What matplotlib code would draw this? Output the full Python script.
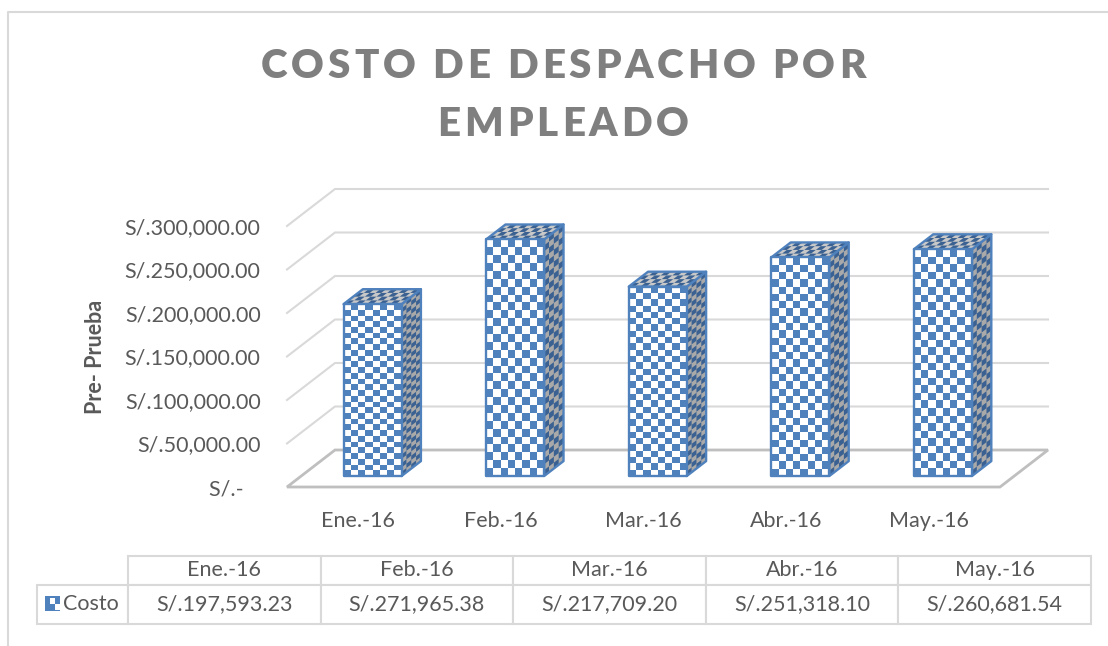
import matplotlib
matplotlib.use("Agg")
import matplotlib.pyplot as plt
from matplotlib.collections import PolyCollection
from matplotlib.lines import Line2D
from matplotlib.patches import Polygon
from matplotlib.text import Text
from matplotlib.transforms import IdentityTransform
import numpy as np

plt.rcParams["font.family"] = ["Lato", "DejaVu Sans"]

months = ["Ene.-16", "Feb.-16", "Mar.-16", "Abr.-16", "May.-16"]
costo = [197593.23, 271965.38, 217709.20, 251318.10, 260681.54]
y_ticks = [0, 50000, 100000, 150000, 200000, 250000, 300000]
y_labels = ["S/.-   ", "S/.50,000.00", "S/.100,000.00", "S/.150,000.00",
            "S/.200,000.00", "S/.250,000.00", "S/.300,000.00"]
title_lines = ["COSTO DE DESPACHO POR", "EMPLEADO"]
series_name = "Costo"
y_title = "Pre- Prueba"

W, H = 1108, 646
BLUE = "#4f81bd"
DARK_BLUE = "#3a6191"
GRAY = "#a9a9a9"
GRID = "#d9d9d9"
FLOOR = "#bfbfbf"
TEXT = "#595959"
LABEL_SIZE = 15.5

# depth of the fake 3d box, in pixels
DEPTH_X = 48
DEPTH_Y = 37
BAR_FRONT = 0.297
BAR_BACK = 0.70
BAR_WIDTH = 0.407


class SpacedText(Text):
    # one text, drawn letter by letter with extra room between the letters
    spacing = 0

    def draw(self, renderer):
        s = self.get_text()
        prop = self.get_fontproperties()
        widths = [renderer.get_text_width_height_descent(s[:i], prop, False)[0] if i else 0
                  for i in range(len(s) + 1)]
        x, y = self.get_position()
        start = x - (widths[-1] + self.spacing * (len(s) - 1)) / 2
        for i, ch in enumerate(s):
            t = Text(start + widths[i] + i * self.spacing, y, ch, color=self.get_color(),
                     fontproperties=prop, va="baseline", ha="left",
                     transform=IdentityTransform())
            t.set_figure(self.get_figure())
            t.draw(renderer)


def px(x, y):
    # picture pixels (origin top left) to display coordinates
    return x, H - y


def corner(cat, value, depth):
    p = ax.transData.transform((cat, value))
    return p + np.array([DEPTH_X * depth, DEPTH_Y * depth])


def draw_checks(origin, u, v, nu, nv, back, front, zorder, edge=BLUE):
    origin, u, v = np.array(origin), np.array(u), np.array(v)
    ax.add_patch(Polygon([origin, origin + u, origin + u + v, origin + v], closed=True,
                         facecolor=back, edgecolor="none", transform=IdentityTransform(),
                         zorder=zorder, clip_on=False))
    cells = []
    for i in range(nu):
        for j in range(nv):
            if (i + j) % 2 == 0:
                a = origin + u * i / nu + v * j / nv
                cells.append([a, a + u / nu, a + u / nu + v / nv, a + v / nv])
    ax.add_collection(PolyCollection(cells, facecolors=front, edgecolors="none",
                                     transform=IdentityTransform(), zorder=zorder + 0.1,
                                     clip_on=False), autolim=False)
    if edge:
        ax.add_patch(Polygon([origin, origin + u, origin + u + v, origin + v], closed=True,
                             facecolor="none", edgecolor=edge, linewidth=1.7,
                             transform=IdentityTransform(), zorder=zorder + 0.2, clip_on=False,
                             joinstyle="round"))


fig = plt.figure(figsize=(W / 100, H / 100), dpi=100, facecolor="white")

# chart border, only top and left are in the picture
fig.add_artist(Line2D([8 / W, 8 / W, 1], [0, 1 - 12 / H, 1 - 12 / H], color=GRID, linewidth=1.5))

ax = fig.add_axes([287 / W, (H - 487) / H, 713 / W, 261 / H])
ax.set_zorder(3)
ax.set_xlim(-0.5, len(months) - 0.5)
ax.set_ylim(0, 300000)
ax.patch.set_visible(False)
for s in ax.spines.values():
    s.set_visible(False)
ax.set_xticks(range(len(months)), months, fontsize=LABEL_SIZE, color=TEXT)
ax.set_yticks(y_ticks, y_labels, fontsize=LABEL_SIZE, color=TEXT)
ax.tick_params(axis="both", length=0)
ax.tick_params(axis="x", pad=17)
ax.tick_params(axis="y", pad=19)

# back wall and side wall gridlines
for v in y_ticks[1:]:
    a = corner(-0.5, v, 0)
    b = corner(-0.5, v, 1)
    c = corner(len(months) - 0.5, v, 1)
    ax.add_line(Line2D([a[0], b[0], c[0]], [a[1], b[1], c[1]], color=GRID, linewidth=1.5,
                       transform=IdentityTransform(), clip_on=False, zorder=1))

# floor
floor = [corner(-0.5, 0, 0), corner(-0.5, 0, 1), corner(len(months) - 0.5, 0, 1),
         corner(len(months) - 0.5, 0, 0)]
ax.add_patch(Polygon(floor, closed=True, facecolor="white", edgecolor=FLOOR, linewidth=2,
                     transform=IdentityTransform(), clip_on=False, zorder=2))

# bars
for i, value in enumerate(costo):
    left = i - BAR_WIDTH / 2
    right = i + BAR_WIDTH / 2
    p0 = corner(left, 0, BAR_FRONT)
    p1 = corner(right, 0, BAR_FRONT)
    p2 = corner(left, value, BAR_FRONT)
    p3 = corner(right, 0, BAR_BACK)
    p4 = corner(right, value, BAR_FRONT)
    draw_checks(p1, p3 - p1, p4 - p1, 4, 40, GRAY, DARK_BLUE, 3)
    draw_checks(p2, p1 - p0, p3 - p1, 10, 4, "#c8c8c8", DARK_BLUE, 3.5)
    draw_checks(p0, p1 - p0, p2 - p0, 8, 30, "white", BLUE, 4)

fig.text(95 / W, 1 - 357 / H, y_title, rotation=90, ha="center", va="center",
         fontsize=15.5, fontweight="bold", color=TEXT)

# title
for line, base in zip(title_lines, [78, 136]):
    t = SpacedText(*px(563, base), line, color="#7f7f7f", fontsize=29, fontweight=800,
                   ha="center", va="baseline", transform=IdentityTransform())
    t.spacing = 3.9
    fig.add_artist(t)
    t.set_transform(IdentityTransform())

# data table under the chart
tax = fig.add_axes([37 / W, (H - 624) / H, (1091 - 37) / W, (624 - 556) / H])
tax.axis("off")
name_w = 91 / 1054
col_w = (1 - name_w) / len(months)
rows = [[""] + months, [series_name] + [f"S/.{v:,.2f}" for v in costo]]
table = tax.table(cellText=rows, colWidths=[name_w] + [col_w] * len(months),
                  bbox=[0, 0, 1, 1], cellLoc="center")
table.auto_set_font_size(False)
table.set_fontsize(LABEL_SIZE)
for (r, c), cell in table.get_celld().items():
    cell.set_edgecolor(GRID)
    cell.set_linewidth(1.5)
    cell.set_height(29 if r == 0 else 39)
    cell.get_text().set_color(TEXT)
table[(0, 0)].set_visible(False)
table[(1, 0)].get_text().set_ha("right")
table[(1, 0)]._loc = "right"

# legend key in the table
kx, ky, ks = 45, 596, 15
draw_checks(px(kx, ky + ks), (ks, 0), (0, ks), 1, 1, BLUE, BLUE, 6, edge=None)
draw_checks(px(kx + ks / 3, ky + ks / 2), (ks / 3, 0), (0, ks * 0.4), 1, 1, "white", "white", 7, edge=None)
draw_checks(px(kx + 2 * ks / 3, ky + ks - 1), (ks / 3, 0), (0, ks * 0.4), 1, 1, "white", "white", 7, edge=None)

fig.savefig("out.png", dpi=100)
